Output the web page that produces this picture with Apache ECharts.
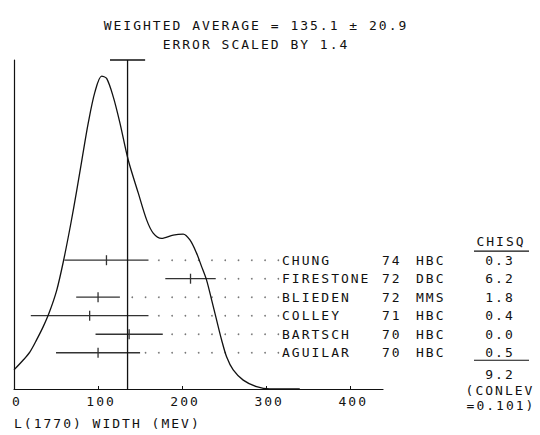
<!DOCTYPE html>
<html>
<head>
<meta charset="utf-8">
<script src="https://cdn.jsdelivr.net/npm/echarts@6/dist/echarts.min.js"></script>
<style>
  html, body { margin: 0; padding: 0; background: #fff; }
  #chart { width: 540px; height: 435px; letter-spacing: 2px; }
</style>
</head>
<body>
<div id="chart"></div>
<script>
// L(1770) width measurements (MeV), listed top to bottom
const names   = ['CHUNG', 'FIRESTONE', 'BLIEDEN', 'COLLEY', 'BARTSCH', 'AGUILAR'];
const years   = ['74', '72', '72', '71', '70', '70'];
const techs   = ['HBC', 'DBC', 'MMS', 'HBC', 'HBC', 'HBC'];
const values  = [110, 210, 100, 90, 137, 100];
const errors  = [50, 30, 26, 70, 40, 50];
const chisq   = ['0.3', '6.2', '1.8', '0.4', '0.0', '0.5'];
const chisqTotal = '9.2';
const conlev = '0.101';

// weighted average
const average = 135.1;
const averageErr = 20.9;
const errScale = 1.4;

// ideogram curve (width in MeV, relative height 0-100)
const curveX = [0, 11, 19, 27, 34.5, 41.6, 50.8, 58.6, 67.4, 74.6, 80.5, 88.3, 96.3, 104.3,
  110.2, 118.1, 126, 135.9, 147.8, 157.8, 165.6, 175.6, 189.4, 201.3, 209.3, 217.2, 223.2,
  229.1, 235.1, 241, 247, 252.9, 260.8, 272.7, 288.6, 304.4, 340];
const curveY = [5.8, 8.8, 11.3, 15.0, 18.8, 23.0, 30.0, 38.6, 50.0, 60.3, 69.2, 80.8, 90.3, 95.1,
  94.4, 88.8, 80.9, 69.6, 59.6, 51.4, 47.4, 45.8, 46.8, 47.1, 45.3, 41.3, 37.2,
  33.1, 27.1, 21.0, 14.9, 9.8, 5.8, 2.7, 0.7, 0, 0];

// axis tick labels
const xTicks = [0, 100, 200, 300, 400];

const FONT = '"DejaVu Sans Mono", monospace';
const INK = '#111';
const BAR = '#333';
const textStyle = { fontFamily: FONT, fontSize: 13, fontWeight: 'normal', color: INK, lineHeight: 14 };

const nRows = names.length;
const rowOf = i => nRows - 1 - i;

const curveData = curveX.map((x, i) => [x, curveY[i]]);
const barData = values.map((v, i) => [v, rowOf(i), errors[i]]);

// dotted leaders run on a fixed grid from each bar's end to the name column
const dotStart = 140.7, dotStep = 15.8, dotCount = 12;
const dotData = [];
values.forEach((v, i) => {
  const hi = v + errors[i];
  for (let k = 0; k < dotCount; k++) {
    const x = dotStart + k * dotStep;
    if (x > hi) dotData.push([x, rowOf(i)]);
  }
});

const chart = echarts.init(document.getElementById('chart'), null, { renderer: 'svg' });

chart.setOption({
  animation: false,
  backgroundColor: '#fff',
  title: [
    {
      text: `WEIGHTED AVERAGE = ${average.toFixed(1)} ± ${averageErr.toFixed(1)}`,
      subtext: `ERROR SCALED BY ${errScale}`,
      left: 256, top: 18, textAlign: 'center', padding: 0, itemGap: 5,
      textStyle: textStyle, subtextStyle: textStyle
    },
    {
      text: 'L(1770) WIDTH (MEV)',
      left: 14, top: 416, padding: 0,
      textStyle: textStyle
    }
  ],
  grid: { left: 14, right: 157, top: 60, bottom: 46 },
  xAxis: [{
    type: 'value', min: 0, max: 439,
    axisLine: { show: true, lineStyle: { color: INK, width: 1.2 } },
    axisTick: { show: true, inside: true, length: 3, customValues: xTicks, lineStyle: { color: INK, width: 1 } },
    axisLabel: { customValues: xTicks, fontFamily: FONT, fontSize: 13, color: INK, margin: 6, padding: [0, 0, 0, 6] },
    splitLine: { show: false }
  }],
  yAxis: [
    {
      type: 'value', min: 0, max: 100,
      axisLine: { show: true, lineStyle: { color: INK, width: 1.2 } },
      axisTick: { show: false }, axisLabel: { show: false }, splitLine: { show: false }
    },
    { type: 'value', min: -1.96, max: 15.82, show: false }
  ],
  series: [
    {
      name: 'ideogram', type: 'line', data: curveData, smooth: 0.3, symbol: 'none', clip: false,
      lineStyle: { color: INK, width: 1.3 }
    },
    {
      name: 'average', type: 'line', data: [[average, 0], [average, 100]], symbol: 'none', clip: false,
      lineStyle: { color: INK, width: 1.3 }
    },
    {
      name: 'average error', type: 'line', data: [[average - averageErr, 100], [average + averageErr, 100]],
      symbol: 'none', clip: false, lineStyle: { color: INK, width: 1.3 }
    },
    {
      name: 'leaders', type: 'scatter', xAxisIndex: 0, yAxisIndex: 1, data: dotData,
      symbol: 'circle', symbolSize: 1.7, itemStyle: { color: '#555' }, silent: true
    },
    {
      name: 'measurements', type: 'custom', xAxisIndex: 0, yAxisIndex: 1, data: barData, clip: false,
      renderItem: (params, api) => {
        const v = api.value(0), r = api.value(1), e = api.value(2);
        const lo = api.coord([v - e, r]);
        const hi = api.coord([v + e, r]);
        const c = api.coord([v, r]);
        return {
          type: 'group',
          children: [
            { type: 'line', shape: { x1: lo[0], y1: lo[1], x2: hi[0], y2: hi[1] }, style: { stroke: BAR, lineWidth: 1.3 } },
            { type: 'line', shape: { x1: c[0], y1: c[1] - 5, x2: c[0], y2: c[1] + 5 }, style: { stroke: BAR, lineWidth: 1.3 } }
          ]
        };
      }
    }
  ]
});

// measurement table to the right of the plot
const colName = 282, colYear = 382, colTech = 416, colChi = 500, chiLeft = 474, chiRight = 529;
const rowY = i => chart.convertToPixel({ yAxisIndex: 1 }, rowOf(i));
const txt = (text, x, y, align) => ({
  type: 'text', x: x, y: y, silent: true,
  style: { text: text, fontFamily: FONT, fontSize: 13, fill: INK, align: align || 'left', verticalAlign: 'middle' }
});
const rule = (x1, x2, y) => ({
  type: 'line', silent: true, shape: { x1: x1, y1: y, x2: x2, y2: y }, style: { stroke: INK, lineWidth: 1.2 }
});

const graphic = [];
names.forEach((n, i) => {
  const y = rowY(i);
  graphic.push(txt(n, colName, y));
  graphic.push(txt(years[i], colYear, y));
  graphic.push(txt(techs[i], colTech, y));
  graphic.push(txt(chisq[i], colChi, y, 'center'));
});
const yTop = rowY(0), yBottom = rowY(nRows - 1);
graphic.push(txt('CHISQ', colChi + 1, yTop - 18.5, 'center'));
graphic.push(rule(chiLeft, chiRight, yTop - 9));
graphic.push(rule(chiLeft, chiRight, yBottom + 7.5));
graphic.push(txt(chisqTotal, colChi, yBottom + 21.5, 'center'));
graphic.push(txt('(CONLEV', colChi, yBottom + 37.5, 'center'));
graphic.push(txt('=' + conlev + ')', colChi + 1, yBottom + 52.5, 'center'));

chart.setOption({ graphic: graphic });
</script>
</body>
</html>
